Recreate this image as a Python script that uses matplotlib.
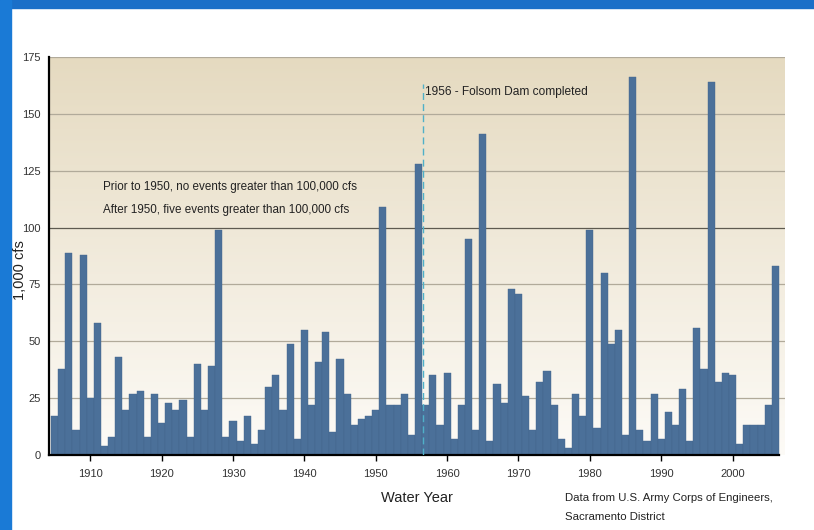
# American River peak flows - bar chart recreation
import matplotlib.pyplot as plt
import numpy as np
from matplotlib.patches import Rectangle

# Water years and annual peak flow (1,000 cfs)
years = list(range(1905, 2007))
peak_flow = [
    17, 38, 89, 11, 88, 25, 58, 4, 8, 43,        # 1905-1914
    20, 27, 28, 8, 27, 14, 23, 20, 24, 8,        # 1915-1924
    40, 20, 39, 99, 8, 15, 6, 17, 5, 11,         # 1925-1934
    30, 35, 20, 49, 7, 55, 22, 41, 54, 10,       # 1935-1944
    42, 27, 13, 16, 17, 20, 109, 22, 22, 27,     # 1945-1954
    9, 128, 22, 35, 13, 36, 7, 22, 95, 11,       # 1955-1964
    141, 6, 31, 23, 73, 71, 26, 11, 32, 37,      # 1965-1974
    22, 7, 3, 27, 17, 99, 12, 80, 49, 55,        # 1975-1984
    9, 166, 11, 6, 27, 7, 19, 13, 29, 6,         # 1985-1994
    56, 38, 164, 32, 36, 35, 5, 13, 13, 13,      # 1995-2004
    22, 83,                                      # 2005-2006
]

y_ticks = [0, 25, 50, 75, 100, 125, 150, 175]
x_ticks = [1910, 1920, 1930, 1940, 1950, 1960, 1970, 1980, 1990, 2000]

note_lines = ["Prior to 1950, no events greater than 100,000 cfs",
              "After 1950, five events greater than 100,000 cfs"]
dam_text = "1956 - Folsom Dam completed"
source_lines = ["Data from U.S. Army Corps of Engineers,", "Sacramento District"]

font = ['Liberation Sans', 'DejaVu Sans']
ink = '#222222'

fig = plt.figure(figsize=(8.14, 5.30), dpi=100)
fig.patch.set_facecolor('white')

# blue slide frame (top band and left stripe)
fig.add_artist(Rectangle((0, 0.985), 1, 0.015, transform=fig.transFigure,
                         color='#1b6fc8', zorder=0))
fig.add_artist(Rectangle((0, 0), 0.0135, 1, transform=fig.transFigure,
                         color='#1a7ad6', zorder=0))

ax = fig.add_axes([0.060, 0.1415, 0.904, 0.751])
xmin, xmax = 1904.2, 2007.3
ax.set_xlim(xmin, xmax)
ax.set_ylim(0, 175)

# tan-to-white vertical gradient behind the plot
grad = np.linspace(0, 1, 256).reshape(-1, 1)
top_c = np.array([229, 218, 192]) / 255
bot_c = np.array([253, 251, 247]) / 255
img = top_c[None, None, :] * (1 - grad[:, :, None]) + bot_c[None, None, :] * grad[:, :, None]
ax.imshow(img, extent=[xmin, xmax, 0, 175], aspect='auto', zorder=0,
          origin='upper')

# horizontal gridlines
for v in y_ticks[1:]:
    ax.axhline(v, color='#5e5a50' if v == 100 else '#b1aa9a',
               lw=0.9, zorder=1)

ax.bar(years, peak_flow, width=1.0, color='#4b7099', edgecolor='#44668c',
       linewidth=0.3, zorder=2)

# Folsom Dam marker
ax.plot([1956.6, 1956.6], [0, 163], color='#4fb0c8', lw=1.0,
        linestyle=(0, (5, 3)), zorder=3)
ax.text(1956.95, 159.5, dam_text, fontsize=8.6, family=font, color=ink,
        va='center', ha='left', zorder=4)

ax.text(1911.8, 118, note_lines[0], fontsize=8.4, family=font, color=ink,
        va='center', ha='left', zorder=4)
ax.text(1911.8, 107.8, note_lines[1], fontsize=8.4, family=font, color=ink,
        va='center', ha='left', zorder=4)

for s in ['top', 'right']:
    ax.spines[s].set_visible(False)
ax.spines['left'].set_linewidth(1.6)
ax.spines['bottom'].set_linewidth(1.6)
ax.spines['bottom'].set_bounds(xmin, 2006.5)

ax.set_yticks(y_ticks)
ax.set_xticks(x_ticks)
ax.tick_params(axis='y', length=0, pad=6, labelsize=8, labelcolor='#333333')
ax.tick_params(axis='x', length=4, width=1, direction='out', pad=6,
               labelsize=8, labelcolor='#333333')
for lab in ax.get_xticklabels() + ax.get_yticklabels():
    lab.set_family(font)

ax.set_xlabel('Water Year', fontsize=10.5, family=font, color=ink,
              labelpad=9)
ax.set_ylabel('1,000 cfs', fontsize=10.5, family=font, color=ink)
ax.yaxis.set_label_coords(-0.030, 0.465)

fig.text(0.694, 1 - 498 / 530, source_lines[0], fontsize=8.2, family=font,
         color=ink, va='center', ha='left')
fig.text(0.694, 1 - 517 / 530, source_lines[1], fontsize=8.2, family=font,
         color=ink, va='center', ha='left')

fig.savefig('out.png', dpi=100)
